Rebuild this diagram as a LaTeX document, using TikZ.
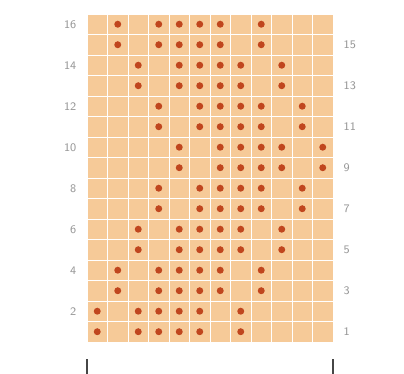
\documentclass[tikz,border=0pt]{standalone}
\usetikzlibrary{positioning}
\definecolor{cellcolor}{RGB}{246, 202, 152}
\definecolor{dotcolor}{RGB}{192, 70, 30}
\definecolor{labelcolor}{RGB}{150, 150, 150}
\definecolor{endcolor}{RGB}{70, 70, 70}
\tikzset{
  cell/.style={
    fill=cellcolor, draw=white, line width=0.5pt
  },
  stitch/.style={
    circle, inner sep=0pt, minimum size=0.17cm,
    fill=dotcolor
  },
  rowlabel/.style={
    font=\footnotesize\sffamily, text=labelcolor, inner sep=1pt
  },
  endmark/.style={
    draw=endcolor, line width=1.2pt
  }
}

\begin{document}
\begin{tikzpicture}

  \useasboundingbox (-2.122,-0.780) rectangle (7.732,8.341);

  % ── Chart cells ────────────────────────────────────────────
  \foreach \col in {1,...,12}
    \foreach \row in {1,...,16}
      \path[cell] ({(\col-1)*0.5},{(\row-1)*0.5}) rectangle ++(0.5,0.5);

  % ── Stitches (two rows per step, shifted pattern) ──────────
  \foreach \p/\k in {1/0,2/1,3/2,4/3,5/4,6/3,7/2,8/1}
    \foreach \s in {0,1}
      \foreach \c in {1,3,4,5,6,8}
        \node[stitch] (d\p\s\c) at ({(\c+\k-0.5)*0.5},{(2*\p-1+\s-0.5)*0.5}) {};

  % ── Row numbers ────────────────────────────────────────────
  \foreach \n in {2,4,...,16}
    \node[rowlabel, anchor=east] (left\n) at (-0.22,{(\n-0.5)*0.5}) {\n};
  \foreach \n in {1,3,...,15}
    \node[rowlabel, anchor=west] (right\n) at (6.22,{(\n-0.5)*0.5}) {\n};

  % ── Width marks ────────────────────────────────────────────
  \coordinate (lefttop)  at (0,-0.42);
  \coordinate (rightop)  at (6,-0.42);
  \draw[endmark] (lefttop) -- ++(0,-0.36);
  \draw[endmark] (rightop) -- ++(0,-0.36);

\end{tikzpicture}
\end{document}
